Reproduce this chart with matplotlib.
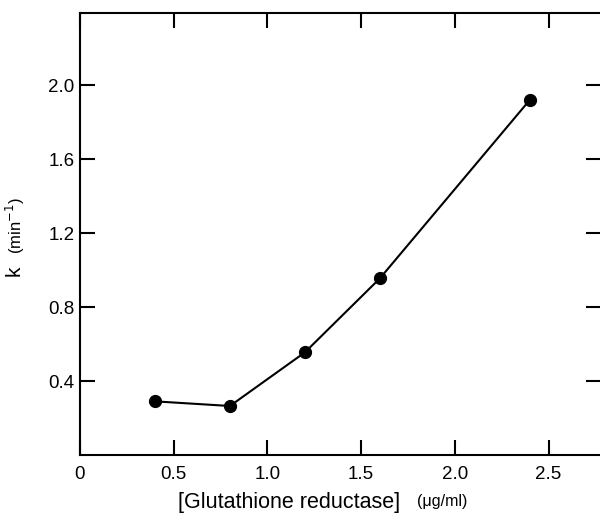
import numpy as np
import matplotlib
matplotlib.use("Agg")
import matplotlib.pyplot as plt

plt.rcParams['font.family'] = ['Liberation Sans', 'DejaVu Sans']

# rate constant vs. enzyme concentration
conc = [0.4, 0.8, 1.2, 1.6, 2.4]
k_rate = [0.29, 0.265, 0.555, 0.955, 1.92]

xticks = [0, 0.5, 1.0, 1.5, 2.0, 2.5]
xtick_labels = ['0', '0.5', '1.0', '1.5', '2.0', '2.5']
yticks = [0.4, 0.8, 1.2, 1.6, 2.0]
ytick_labels = ['0.4', '0.8', '1.2', '1.6', '2.0']

fig = plt.figure(figsize=(6, 5.21), dpi=100)
ax = fig.add_axes([0.1333, 0.1267, 0.8684, 0.8483])

ax.plot(conc, k_rate, color='black', lw=1.5, marker='o', ms=8.5,
        clip_on=False)

ax.set_xlim(0, 2.78)
ax.set_ylim(0, 2.39)
ax.set_xticks(xticks)
ax.set_xticklabels(xtick_labels)
ax.set_yticks(yticks)
ax.set_yticklabels(ytick_labels)

for s in ax.spines.values():
    s.set_linewidth(1.5)

ax.tick_params(direction='in', length=11, width=1.5, labelsize=13.5,
               top=True, right=True)
ax.tick_params(axis='x', pad=8)
ax.tick_params(axis='y', pad=4)

# axis labels
fig.text(0.482, 0.035, '[Glutathione reductase]', fontsize=15.5,
         ha='center', va='center')
fig.text(0.695, 0.037, '(\u03bcg/ml)', fontsize=11.5, ha='left', va='center')
fig.text(0.024, 0.48, 'k', fontsize=15, rotation=90, ha='center', va='center')
fig.text(0.026, 0.567, '(min$^{-1}$)', fontsize=12, rotation=90,
         ha='center', va='center')

fig.savefig('out.png', dpi=100)
